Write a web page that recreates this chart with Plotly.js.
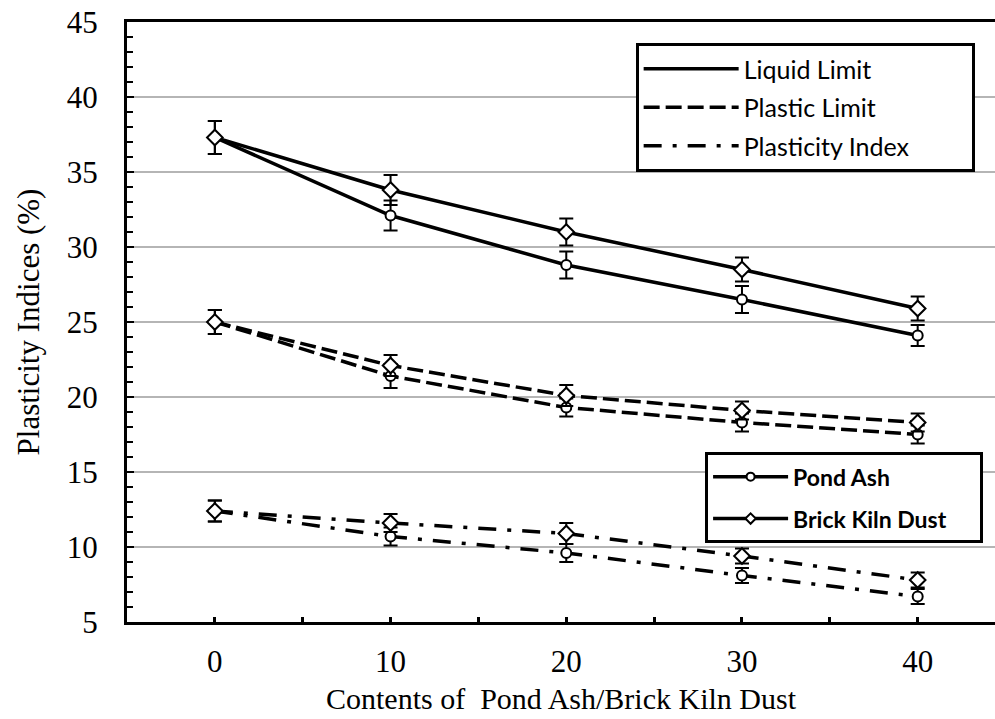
<!DOCTYPE html>
<html>
<head>
<meta charset="utf-8">
<script src="https://cdn.plot.ly/plotly-3.0.1.min.js"></script>
<style>html,body{margin:0;padding:0;background:#fff;}#chart{width:995px;height:719px;}</style>
</head>
<body>
<div id="chart"></div>
<script>
// Contents (%)
const contents = [0, 10, 20, 30, 40];

// Liquid limit
const llPondAsh = [37.3, 32.1, 28.8, 26.5, 24.1];
const llPondAshErr = [1.1, 1.0, 0.9, 0.9, 0.7];
const llBrickKiln = [37.3, 33.8, 31.0, 28.5, 25.9];
const llBrickKilnErr = [1.1, 1.0, 0.9, 0.8, 0.8];

// Plastic limit
const plPondAsh = [25.0, 21.4, 19.3, 18.3, 17.5];
const plPondAshErr = [0.8, 0.8, 0.6, 0.6, 0.6];
const plBrickKiln = [25.0, 22.1, 20.1, 19.1, 18.3];
const plBrickKilnErr = [0.8, 0.7, 0.7, 0.6, 0.6];

// Plasticity index
const piPondAsh = [12.4, 10.7, 9.6, 8.1, 6.7];
const piPondAshErr = [0.7, 0.6, 0.6, 0.5, 0.5];
const piBrickKiln = [12.4, 11.6, 10.9, 9.4, 7.8];
const piBrickKilnErr = [0.7, 0.6, 0.7, 0.5, 0.5];

const propertyNames = ["Liquid Limit", "Plastic Limit", "Plasticity Index"];
const materialNames = ["Pond Ash", "Brick Kiln Dust"];
const yTickVals = [5, 10, 15, 20, 25, 30, 35, 40, 45];
const xTickVals = [0, 10, 20, 30, 40];

const dashes = ["solid", "16px,6px", "18px,11px,4px,11px"];
const symbols = ["circle", "diamond"];

function series(y, err, dash, symbol) {
  return {
    x: contents, y: y, type: "scatter", mode: "lines+markers",
    showlegend: false,
    line: {color: "black", width: 3.5, dash: dash},
    marker: {symbol: symbol, size: symbol === "diamond" ? 12 : 10, color: "white",
             line: {color: "black", width: 2}},
    error_y: {type: "data", array: err, visible: true, color: "black", thickness: 2, width: 7}
  };
}

const traces = [
  series(llPondAsh, llPondAshErr, dashes[0], symbols[0]),
  series(llBrickKiln, llBrickKilnErr, dashes[0], symbols[1]),
  series(plPondAsh, plPondAshErr, dashes[1], symbols[0]),
  series(plBrickKiln, plBrickKilnErr, dashes[1], symbols[1]),
  series(piPondAsh, piPondAshErr, dashes[2], symbols[0]),
  series(piBrickKiln, piBrickKilnErr, dashes[2], symbols[1])
];

// legend entries: line styles
propertyNames.forEach((name, i) => {
  traces.push({
    x: [null], y: [null], type: "scatter", mode: "lines",
    name: i === 2 ? name + "\u00a0\u00a0\u00a0\u00a0\u00a0\u00a0\u00a0\u00a0\u00a0" : name,
    legend: "legend", showlegend: true, legendgroup: "p" + i,
    line: {color: "black", width: 3.5, dash: dashes[i]}
  });
});
// legend entries: materials
materialNames.forEach((name, i) => {
  traces.push({
    x: [null], y: [null], type: "scatter", mode: "lines+markers",
    name: i === 1 ? name + "\u00a0\u00a0\u00a0\u00a0\u00a0" : name,
    legend: "legend2", showlegend: true, legendgroup: "m" + i,
    line: {color: "black", width: 3.5},
    marker: {symbol: symbols[i], size: 8, color: "white", line: {color: "black", width: 2}}
  });
});

const serif = "Liberation Serif, Times New Roman, serif";

const layout = {
  width: 995, height: 719,
  margin: {l: 127, r: 0, t: 22, b: 97},
  paper_bgcolor: "white", plot_bgcolor: "white",
  font: {family: serif, color: "black"},
  xaxis: {
    range: [-5, 44.4], tickvals: xTickVals, ticktext: xTickVals.map(String),
    showgrid: false, zeroline: false,
    showline: true, linecolor: "black", linewidth: 3, mirror: true,
    ticks: "inside", ticklen: 5, tickwidth: 3, tickcolor: "black",
    minor: {dtick: 5, tick0: 0, ticks: "inside", ticklen: 5, tickwidth: 3, tickcolor: "black", showgrid: false},
    tickfont: {family: serif, size: 31},
    ticklabelstandoff: 10,
    title: {text: "Contents of \u00a0Pond Ash/Brick Kiln Dust", font: {family: serif, size: 30}, standoff: 10}
  },
  yaxis: {
    range: [5, 45], tickvals: yTickVals, ticktext: yTickVals.map(String),
    showgrid: true, gridcolor: "#b5b5b5", gridwidth: 2,
    zeroline: false,
    showline: true, linecolor: "black", linewidth: 3, mirror: false,
    ticks: "inside", ticklen: 7, tickwidth: 2, tickcolor: "black",
    minor: {dtick: 1, tick0: 5, ticks: "inside", ticklen: 6, tickwidth: 2, tickcolor: "black", showgrid: false},
    tickfont: {family: serif, size: 31},
    ticklabelstandoff: 20,
    title: {text: "Plasticity Indices (%)", font: {family: serif, size: 31}, standoff: 18}
  },
  legend: {
    x: 0.586, y: 0.965, xanchor: "left", yanchor: "top",
    bgcolor: "white", bordercolor: "black", borderwidth: 3,
    font: {family: "Lato, Carlito, sans-serif", size: 25, color: "black"},
    itemwidth: 95, tracegroupgap: 3
  },
  legend2: {
    x: 0.666, y: 0.283, xanchor: "left", yanchor: "top",
    bgcolor: "white", bordercolor: "black", borderwidth: 3,
    font: {family: "Lato, Carlito, sans-serif", size: 23, color: "black", weight: "bold"},
    itemwidth: 75, tracegroupgap: 9
  },
  showlegend: true
};

Plotly.newPlot("chart", traces, layout, {displayModeBar: false, staticPlot: true});
</script>
</body>
</html>
